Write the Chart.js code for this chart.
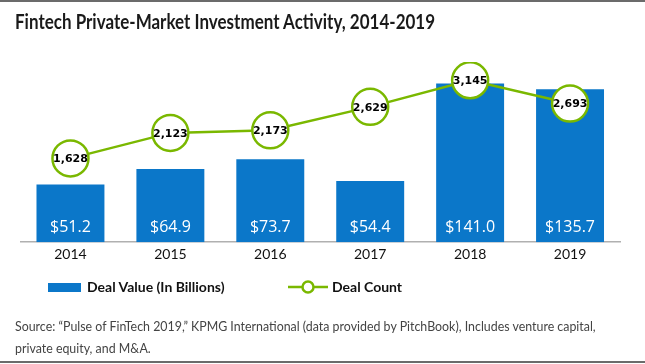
<!DOCTYPE html>
<html>
<head>
<meta charset="utf-8">
<script src="https://cdn.jsdelivr.net/npm/chart.js@4"></script>
<style>
  html, body { margin: 0; padding: 0; background: #fff; }
  #wrap { position: relative; width: 645px; height: 364px; overflow: hidden; }
  #wrap canvas { position: absolute; left: 0; top: 0; }
  .topline { position: absolute; left: 0; top: 0; width: 645px; height: 2px; background: #6b6b6b; }
  .botline { position: absolute; left: 0; top: 361px; width: 645px; height: 2px; background: #6b6b6b; }
  .title { position: absolute; left: 15px; top: 9px; font: bold 20px "Lato", sans-serif; color: #1a1a1a; white-space: nowrap; transform: scaleX(0.85); transform-origin: left top; }
  .legend { position: absolute; top: 278px; left: 0; font: bold 14px "Lato", sans-serif; color: #111; }
  .legend .item { position: absolute; white-space: nowrap; line-height: 18px; }
  .source { position: absolute; left: 15px; top: 315px; font: 14px "Lato", sans-serif; color: #444; line-height: 22px; white-space: nowrap; transform: scaleX(0.885); transform-origin: left top; }
</style>
</head>
<body>
<div id="wrap">
  <canvas id="chart" width="645" height="364"></canvas>
  <div class="topline"></div>
  <div class="title">Fintech Private-Market Investment Activity, 2014-2019</div>
  <div class="legend">
    <div class="item" style="left:48px;top:0"><span style="display:inline-block;width:33px;height:9px;background:#0b77c9;vertical-align:middle;margin-right:6px;position:relative;top:-1px"></span>Deal Value (In Billions)</div>
    <div class="item" style="left:288px;top:0"><canvas id="lineIcon" width="40" height="16" style="vertical-align:middle;margin-right:4px;position:relative;top:-1px"></canvas>Deal Count</div>
  </div>
  <div class="source">Source: “Pulse of FinTech 2019,” KPMG International (data provided by PitchBook), Includes venture capital,<br>private equity, and M&amp;A.</div>
  <div class="botline"></div>
</div>
<script>
const years = ['2014', '2015', '2016', '2017', '2018', '2019'];
const dealValue = [51.2, 64.9, 73.7, 54.4, 141.0, 135.7];
const dealCount = [1628, 2123, 2173, 2629, 3145, 2693];

const BLUE = '#0b77c9';
const GREEN = '#7ab800';

// petit icone de legende pour la ligne
const ic = document.getElementById('lineIcon').getContext('2d');
ic.strokeStyle = GREEN;
ic.lineWidth = 2.5;
ic.beginPath(); ic.moveTo(0, 8); ic.lineTo(40, 8); ic.stroke();
ic.beginPath(); ic.arc(20, 8, 5.5, 0, Math.PI * 2);
ic.fillStyle = '#fff'; ic.fill(); ic.stroke();

// labels des valeurs
const valueLabels = {
  id: 'valueLabels',
  afterDatasetsDraw(chart) {
    const ctx = chart.ctx;
    ctx.save();
    ctx.textAlign = 'center';
    ctx.textBaseline = 'middle';
    const barMeta = chart.getDatasetMeta(1);
    ctx.fillStyle = '#fff';
    ctx.font = '16px "Open Sans", sans-serif';
    barMeta.data.forEach((bar, i) => {
      ctx.fillText('$' + dealValue[i].toFixed(1), bar.x, bar.base - 15);
    });
    const lineMeta = chart.getDatasetMeta(0);
    ctx.fillStyle = '#000';
    ctx.font = 'bold 11px "DejaVu Sans", sans-serif';
    lineMeta.data.forEach((pt, i) => {
      ctx.fillText(dealCount[i].toLocaleString('en-US'), pt.x, pt.y + 1);
    });
    ctx.restore();
  }
};

new Chart(document.getElementById('chart'), {
  data: {
    labels: years,
    datasets: [{
        type: 'line',
        label: 'Deal Count',
        data: dealCount,
        yAxisID: 'y1',
        borderColor: GREEN,
        borderWidth: 2.5,
        pointRadius: 18,
        pointHoverRadius: 18,
        pointBorderWidth: 2.5,
        pointBackgroundColor: '#fff',
        pointBorderColor: GREEN,
        tension: 0,
        order: 0
      },
      {
        type: 'bar',
        label: 'Deal Value (In Billions)',
        data: dealValue,
        yAxisID: 'y',
        backgroundColor: BLUE,
        barPercentage: 0.68,
        categoryPercentage: 1,
        order: 1
      }
    ]
  },
  options: {
    responsive: false,
    animation: false,
    layout: {
      padding: { left: 20, right: 25, top: 62, bottom: 97 }
    },
    plugins: {
      legend: { display: false },
      tooltip: { enabled: false }
    },
    scales: {
      x: {
        grid: { display: false, drawTicks: false },
        border: { display: true, color: '#b0b0b0', width: 1.5 },
        ticks: {
          color: '#111',
          padding: 4,
          font: { size: 14, family: 'Lato' }
        }
      },
      y: {
        display: false,
        min: 0,
        max: 160
      },
      y1: {
        display: false,
        min: 0,
        max: 3500
      }
    }
  },
  plugins: [valueLabels]
});
</script>
</body>
</html>
